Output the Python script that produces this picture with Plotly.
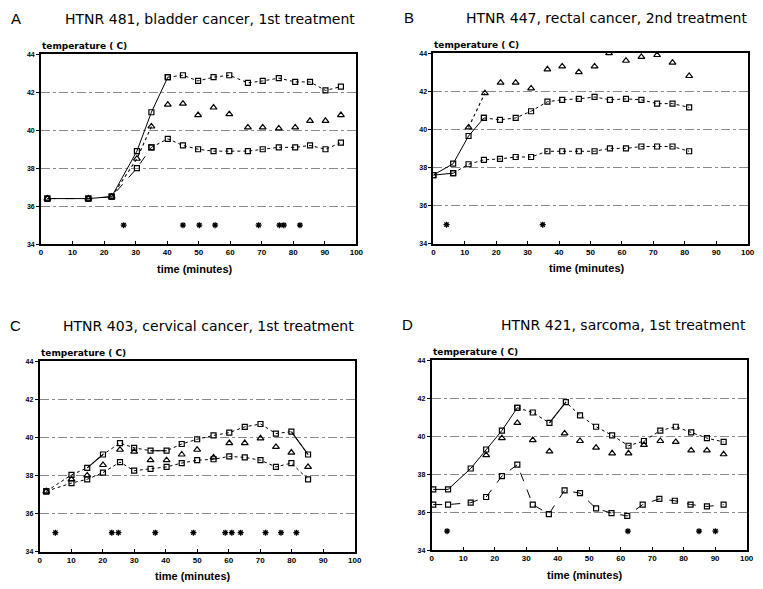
import plotly.graph_objects as go

W, H = 763, 589

# ---------------- data ----------------
# Panel A
A_top_t = [2, 15, 22.4, 30.4, 35, 40.2, 45, 49.8, 54.7, 59.7, 65.6, 70.3, 75.4, 80.6, 85.3, 90.2, 95.1]
A_top_v = [36.4, 36.4, 36.5, 38.9, 40.95, 42.8, 42.9, 42.6, 42.8, 42.9, 42.5, 42.6, 42.75, 42.55, 42.55, 42.1, 42.3]
A_tri_t = [2, 15, 22.4, 30.4, 35, 40.2, 45, 49.8, 54.7, 59.7, 65.6, 70.3, 75.4, 80.6, 85.3, 90.2, 95.1]
A_tri_v = [36.4, 36.4, 36.5, 38.5, 40.2, 41.35, 41.4, 40.8, 41.2, 40.85, 40.15, 40.15, 40.1, 40.15, 40.5, 40.5, 40.8]
A_bot_t = [2, 15, 22.4, 30.4, 35, 40.2, 45, 49.8, 54.7, 59.7, 65.6, 70.3, 75.4, 80.6, 85.3, 90.2, 95.1]
A_bot_v = [36.4, 36.4, 36.5, 38.0, 39.1, 39.55, 39.2, 39.0, 38.9, 38.9, 38.9, 39.0, 39.1, 39.1, 39.2, 39.0, 39.35]
A_star_t = [26.2, 45, 50.2, 55.2, 69, 75.6, 77.0, 82.1]

# Panel B
B_tri_t = [11.2, 16.4, 21.4, 26.2, 31.1, 36.3, 41.0, 46.3, 51.3, 55.9, 61.3, 66.2, 71.2, 76.1, 81.4]
B_tri_v = [40.1, 41.9, 42.45, 42.45, 42.15, 43.15, 43.3, 43.0, 43.3, 44.0, 43.6, 43.8, 43.9, 43.5, 42.8]
B_mid_t = [0, 6.3, 11.2, 16.1, 21.2, 26.2, 31.1, 36.3, 41.0, 46.3, 51.3, 56.2, 61.3, 66.2, 71.2, 76.1, 81.4]
B_mid_v = [37.6, 38.2, 39.65, 40.6, 40.5, 40.6, 40.95, 41.45, 41.55, 41.6, 41.7, 41.55, 41.6, 41.55, 41.35, 41.35, 41.15]
B_bot_t = [0, 6.3, 11.2, 16.1, 21.2, 26.2, 31.1, 36.3, 41.0, 46.3, 51.3, 56.2, 61.3, 66.2, 71.2, 76.1, 81.4]
B_bot_v = [37.6, 37.7, 38.17, 38.4, 38.45, 38.55, 38.55, 38.85, 38.85, 38.85, 38.85, 39.0, 39.0, 39.1, 39.1, 39.1, 38.85]
B_star_t = [4.2, 34.8]

# Panel C
C_t = [2.1, 10.1, 15.1, 20.1, 25.5, 30.0, 35.2, 40.3, 45.1, 50.0, 55.2, 60.2, 65.1, 70.1, 75.0, 79.9, 85.2]
C_top_v = [37.17, 38.03, 38.4, 39.1, 39.7, 39.45, 39.3, 39.3, 39.65, 39.9, 40.1, 40.25, 40.55, 40.7, 40.2, 40.3, 39.1]
C_tri_v = [37.17, 37.8, 38.0, 38.55, 39.35, 39.25, 38.8, 38.8, 39.1, 39.35, 38.95, 39.7, 39.7, 39.95, 39.5, 39.2, 38.45]
C_bot_v = [37.17, 37.6, 37.8, 38.15, 38.7, 38.25, 38.35, 38.45, 38.65, 38.8, 38.85, 39.0, 38.95, 38.8, 38.45, 38.65, 37.8]
C_star_t = [5.0, 22.9, 25.0, 36.7, 48.8, 58.9, 61.0, 63.8, 71.7, 76.6, 81.5]

# Panel D
D_t = [0.5, 5.2, 12.4, 17.3, 22.3, 27.2, 32.1, 37.4, 42.6, 47.1, 52.2, 57.3, 62.5, 67.4, 72.6, 77.5, 82.4, 87.4, 92.7]
D_top_v = [37.2, 37.2, 38.3, 39.3, 40.3, 41.5, 41.25, 40.7, 41.8, 41.1, 40.5, 40.05, 39.5, 39.75, 40.3, 40.5, 40.2, 39.9, 39.7]
D_tri_t = [17.3, 22.3, 27.2, 32.1, 37.4, 42.2, 47.1, 52.2, 57.3, 62.5, 67.4, 72.6, 77.5, 82.4, 87.4, 92.7]
D_tri_v = [39.0, 39.9, 40.7, 39.8, 39.2, 40.15, 39.75, 39.4, 39.1, 39.1, 39.55, 39.75, 39.7, 39.25, 39.25, 39.05]
D_bot_t = [0.5, 5.2, 12.4, 17.3, 22.3, 27.2, 32.1, 37.2, 42.2, 47.1, 52.2, 57.1, 62.1, 67.0, 72.3, 77.2, 82.2, 87.4, 92.7]
D_bot_v = [36.4, 36.4, 36.5, 36.8, 37.9, 38.5, 36.4, 35.9, 37.15, 37.0, 36.2, 35.95, 35.8, 36.4, 36.7, 36.6, 36.4, 36.3, 36.4]
D_star_t = [4.9, 62.3, 84.9, 90.1]

x_ticks = [0, 10, 20, 30, 40, 50, 60, 70, 80, 90, 100]
y_ticks = [34, 36, 38, 40, 42, 44]
STAR_LEVEL = 35.0

panel_letters = ["A", "B", "C", "D"]
panel_titles = ["HTNR 481, bladder cancer, 1st treatment",
                "HTNR 447, rectal cancer, 2nd treatment",
                "HTNR 403, cervical cancer, 1st treatment",
                "HTNR 421, sarcoma, 1st treatment"]

# pixel boxes of plot areas (x0, x1, ytop, ybottom)
boxes = [(39.5, 358.6, 51, 243), (436.5, 754.5, 49.7, 242.6),
         (38.1, 356.9, 361.4, 554.3), (434.8, 753.5, 360.6, 552.7)]

FONT = "Liberation Sans, Arial, sans-serif"
TFONT = "DejaVu Sans, sans-serif"
fig = go.Figure()


def add(t, v, k, symbol, line=None, segs=()):
    xa = "x" if k == 1 else f"x{k}"
    ya = "y" if k == 1 else f"y{k}"
    size = 6 if "triangle" in symbol else 5
    fig.add_trace(go.Scatter(
        x=t, y=v, xaxis=xa, yaxis=ya,
        mode="markers" if line is None else "lines+markers",
        line=dict(color="black", width=1, dash=line or "solid"),
        marker=dict(symbol=symbol, size=size, color="black",
                    line=dict(color="black", width=1.2)),
        showlegend=False, hoverinfo="skip"))
    for (a, b, dash) in segs:
        fig.add_trace(go.Scatter(
            x=t[a:b + 1], y=v[a:b + 1], xaxis=xa, yaxis=ya, mode="lines",
            line=dict(color="black", width=1.1, dash=dash),
            showlegend=False, hoverinfo="skip"))


def stars(t, k):
    xa = "x" if k == 1 else f"x{k}"
    ya = "y" if k == 1 else f"y{k}"
    fig.add_trace(go.Scatter(
        x=t, y=[STAR_LEVEL] * len(t), xaxis=xa, yaxis=ya, mode="markers",
        marker=dict(symbol="asterisk-open", size=5, color="black",
                    line=dict(color="black", width=1.3)),
        showlegend=False, hoverinfo="skip"))


# Panel A
add(A_top_t[5:], A_top_v[5:], 1, "square-open", "dot")
add(A_top_t[:6], A_top_v[:6], 1, "square-open", "solid")
add(A_tri_t, A_tri_v, 1, "triangle-up-open", None, segs=[(2, 4, "dot")])
add(A_bot_t[4:], A_bot_v[4:], 1, "square-open", "dot")
add(A_bot_t[:5], A_bot_v[:5], 1, "square-open", "dash")
stars(A_star_t, 1)

# Panel B
add(B_tri_t, B_tri_v, 2, "triangle-up-open", None, segs=[(0, 1, "dot")])
add(B_mid_t[3:], B_mid_v[3:], 2, "square-open", "dot")
add(B_mid_t[:4], B_mid_v[:4], 2, "square-open", "solid")
add(B_bot_t[1:], B_bot_v[1:], 2, "square-open", "dot")
add(B_bot_t[:2], B_bot_v[:2], 2, "square-open", "solid")
stars(B_star_t, 2)

# Panel C
add(C_t, C_top_v, 3, "square-open", "dot", segs=[(2, 3, "solid"), (6, 7, "solid"), (15, 16, "solid")])
add(C_t, C_tri_v, 3, "triangle-up-open", None)
add(C_t, C_bot_v, 3, "square-open", "dot")
stars(C_star_t, 3)

# Panel D
add(D_t[5:], D_top_v[5:], 4, "square-open", "dot", segs=[(2, 3, "solid")])
add(D_t[:6], D_top_v[:6], 4, "square-open", "solid")
add(D_tri_t, D_tri_v, 4, "triangle-up-open", None)
add(D_bot_t, D_bot_v, 4, "square-open", "dash")
stars(D_star_t, 4)

annotations = []
for i, (x0, x1, yt, yb) in enumerate(boxes):
    k = i + 1
    sx = "" if k == 1 else str(k)
    fig.layout[f"xaxis{sx}"] = dict(
        domain=[x0 / W, x1 / W], anchor=f"y{sx}", range=[0, 100],
        tickvals=x_ticks, ticks="inside", ticklen=3, tickcolor="black",
        showline=True, mirror=True, linecolor="black", linewidth=1.5,
        showgrid=False, zeroline=False,
        tickfont=dict(family=FONT, size=8, color="black", weight="bold"))
    fig.layout[f"yaxis{sx}"] = dict(
        domain=[(H - yb) / H, (H - yt) / H], anchor=f"x{sx}", range=[34, 44],
        tickvals=y_ticks, ticks="outside", ticklen=3, tickcolor="black",
        showline=True, mirror=True, linecolor="black", linewidth=1.8,
        showgrid=True, gridcolor="#8a8a8a", gridwidth=1, griddash="dashdot",
        zeroline=False,
        tickfont=dict(family=FONT, size=7, color="black", weight="bold"))
    # panel letter
    annotations.append(dict(text=panel_letters[i], xref="paper", yref="paper",
                            x=(x0 - 32) / W, y=(H - (yt - 36)) / H,
                            xanchor="left", yanchor="middle", showarrow=False,
                            font=dict(family=FONT, size=15, color="black")))
    # title
    annotations.append(dict(text=panel_titles[i], xref="paper", yref="paper",
                            x=(x1 + 1) / W, y=(H - (yt - 36)) / H,
                            xanchor="right", yanchor="middle", showarrow=False,
                            font=dict(family=TFONT, size=14, color="black")))
    # y label
    annotations.append(dict(text="<b>temperature ( C)</b>", xref="paper", yref="paper",
                            x=(x0 - 1) / W, y=(H - (yt - 8)) / H,
                            xanchor="left", yanchor="middle", showarrow=False,
                            font=dict(family=TFONT, size=9, color="black")))
    # x label
    annotations.append(dict(text="<b>time (minutes)</b>", xref="paper", yref="paper",
                            x=((x0 + x1) / 2 - 4) / W, y=(H - (yb + 25)) / H,
                            xanchor="center", yanchor="middle", showarrow=False,
                            font=dict(family=FONT, size=11, color="black")))

fig.update_layout(width=W, height=H, margin=dict(l=0, r=0, t=0, b=0),
                  paper_bgcolor="white", plot_bgcolor="white",
                  annotations=annotations, showlegend=False)

fig.write_html("out.html")
